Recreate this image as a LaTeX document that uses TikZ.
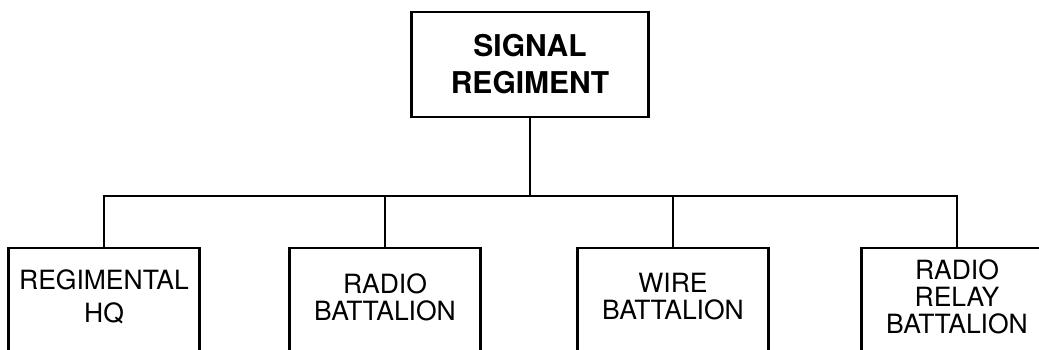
\documentclass[tikz,border=0pt]{standalone}
\usepackage{fontspec}
\setmainfont{TeX Gyre Heros}
\usetikzlibrary{positioning}
\tikzset{x=1pt,y=1pt}
\tikzset{mytopnode/.style={draw,line width=2.6pt,minimum width=237pt,minimum height=105pt,align=center,font=\fontsize{30}{37}\selectfont\bfseries}}
\tikzset{myunitnode/.style={minimum width=191pt,minimum height=98pt,align=center,font=\fontsize{26.5}{27}\selectfont}}
\tikzset{myboxline/.style={line width=2.6pt}}
\tikzset{myedges/.style={line width=2.3pt}}

\begin{document}
\begin{tikzpicture}
    \useasboundingbox (0,0) rectangle (1039,-349);
    \clip (0,0) rectangle (1039,-349);
    \node[mytopnode] (regiment) at (530,-64.5) {SIGNAL\\REGIMENT};
    \coordinate (bus) at (530,-196);
    \node[myunitnode] (hq) at (104,-297) {REGIMENTAL\\[6pt]HQ};
    \node[myunitnode] (radio) at (385,-297) {RADIO\\BATTALION};
    \node[myunitnode] (wire) at (673,-297) {WIRE\\BATTALION};
    \node[myunitnode] (relay) at (957,-297) {RADIO\\RELAY\\BATTALION};
    % open boxes, cut off by the lower edge
    \foreach \unit in {hq,radio,wire,relay}{
        \draw[myboxline] ([yshift=-30pt]\unit.south west) |- (\unit.north east) -- ([yshift=-30pt]\unit.south east);
        \draw[myedges] (\unit.north) |- (bus);
    }
    \draw[myedges] (regiment.south) -- (bus);
\end{tikzpicture}
\end{document}
